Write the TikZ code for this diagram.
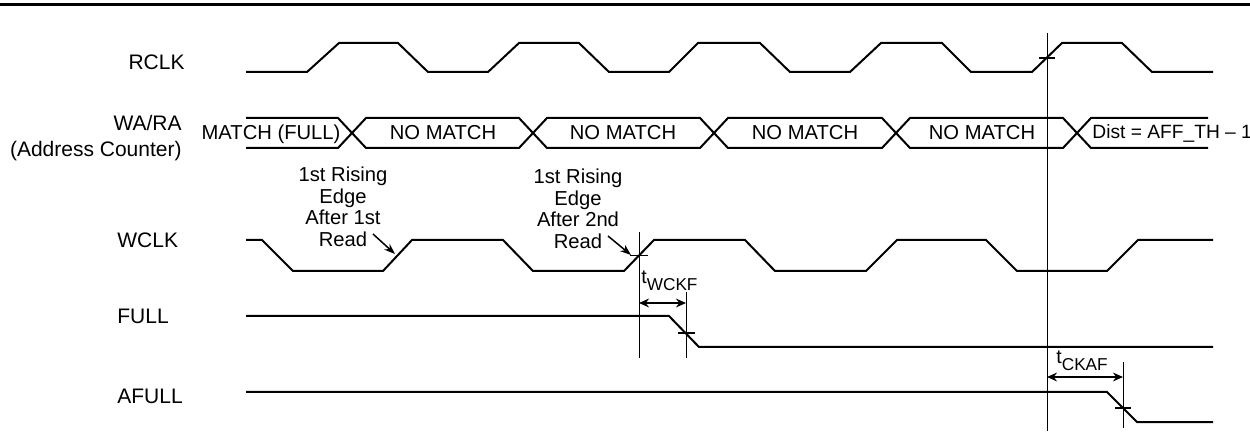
\documentclass[tikz,border=0pt]{standalone}
\usepackage{fontspec}
\setmainfont{Liberation Sans}
\usetikzlibrary{arrows.meta}
\newcommand\tsubscr[1]{t\raisebox{-3.4pt}{\fontsize{8.6}{9}\selectfont #1}}
\tikzset{
  sig/.style={line width=1pt, line join=miter},
  guide/.style={line width=0.5pt},
  tickmark/.style={line width=0.8pt},
  lbl/.style={font=\fontsize{10.5}{12}\selectfont, inner sep=0pt},
  bustxt/.style={font=\fontsize{10.1}{12}\selectfont, inner sep=0pt, anchor=base},
  note/.style={font=\fontsize{10.1}{10.85}\selectfont, align=center, inner sep=0pt, anchor=south, text depth=0pt},
  callout/.style={line width=0.75pt, -{Stealth[length=5.5pt,width=4pt]}},
  dimarrow/.style={line width=1pt, {Stealth[length=5pt,width=4.4pt]}-{Stealth[length=5pt,width=4.4pt]}},
  timetxt/.style={font=\fontsize{9.8}{11}\selectfont, inner sep=0pt, anchor=base west},
}
\begin{document}
\begin{tikzpicture}[x=0.5pt,y=-0.5pt]
\useasboundingbox (0,0) rectangle (1250,444);
% top rule
\draw[line width=1.7pt] (0,4.5) -- (1250,4.5);

% signal names
\node[lbl, anchor=base east] (nRCLK) at (185,70) {RCLK};
\node[lbl, anchor=base east] (nWARA) at (182,131) {WA/RA};
\node[lbl, anchor=base east] (nADDR) at (182,157) {(Address Counter)};
\node[lbl, anchor=base west] (nWCLK) at (117,248) {WCLK};
\node[lbl, anchor=base west] (nFULL) at (117,323) {FULL};
\node[lbl, anchor=base west] (nAFULL) at (117,403) {AFULL};

% RCLK
\draw[sig] (246,72) -- (307,72) -- (339,43) -- (398,43) -- (428,72) -- (488,72)
  -- (519,43) -- (579,43) -- (609,72) -- (669,72) -- (698,43) -- (760,43)
  -- (790,72) -- (850,72) -- (881,43) -- (942,43) -- (971,72) -- (1032,72)
  -- (1062,43) -- (1122,43) -- (1152,72) -- (1213,72);

% WA/RA bus
\draw[sig] (246,118) -- (338,118) -- (366,148) -- (519,148) -- (547,118) -- (700,118)
  -- (728,148) -- (882,148) -- (910,118) -- (1063,118) -- (1091,148) -- (1208,148);
\draw[sig] (246,148) -- (338,148) -- (366,118) -- (519,118) -- (547,148) -- (700,148)
  -- (728,118) -- (882,118) -- (910,148) -- (1063,148) -- (1091,118) -- (1208,118);
\node[bustxt] (b0) at (271,140) {MATCH (FULL)};
\node[bustxt] (b1) at (443,140) {NO MATCH};
\node[bustxt] (b2) at (623,140) {NO MATCH};
\node[bustxt] (b3) at (805,140) {NO MATCH};
\node[bustxt] (b4) at (982,140) {NO MATCH};
\node[bustxt, anchor=base west, font=\fontsize{9.6}{12}\selectfont] (b5) at (1092,139) {Dist = AFF\_TH – 1};

% WCLK
\draw[sig] (246,240) -- (262,240) -- (293,271) -- (383,271) -- (412,240) -- (503,240)
  -- (533,271) -- (624,271) -- (654,240) -- (745,240) -- (775,271) -- (866,271)
  -- (897,240) -- (986,240) -- (1017,271) -- (1107,271) -- (1138,240) -- (1213,240);

% FULL
\draw[sig] (246,316) -- (669,316) -- (699,347) -- (1213,347);
% AFULL
\draw[sig] (246,392) -- (1107,392) -- (1137,422) -- (1213,422);

% reference lines
\coordinate (v1t) at (639,232); \coordinate (v1b) at (639,358);
\coordinate (v2t) at (686,292); \coordinate (v2b) at (686,358);
\coordinate (v3t) at (1047,33); \coordinate (v3b) at (1047,431);
\coordinate (v4t) at (1123,362); \coordinate (v4b) at (1123,428);
\draw[guide] (v1t) -- (v1b);
\draw[guide] (v2t) -- (v2b);
\draw[guide] (v3t) -- (v3b);
\draw[guide] (v4t) -- (v4b);

% crossing ticks
\draw[tickmark] (630,255.5) -- (648,255.5);
\draw[tickmark] (678,333) -- (695,333);
\draw[tickmark] (1039,58) -- (1055,58);
\draw[tickmark] (1115,408) -- (1131,408);

% timing arrows
\coordinate (d1a) at (639,303); \coordinate (d1b) at (686,303);
\coordinate (d2a) at (1047,377); \coordinate (d2b) at (1123,377);
\draw[dimarrow] (d1a) -- (d1b);
\draw[dimarrow] (d2a) -- (d2b);
\node[timetxt] (tw) at (641,284) {\tsubscr{WCKF}};
\node[timetxt] (tc) at (1056,364) {\tsubscr{CKAF}};

% notes
\node[note] (n1) at (343,247) {1st Rising\\Edge\\After 1st\\Read};
\node[note] (n2) at (578,249) {1st Rising\\Edge\\After 2nd\\Read};
\coordinate (a1s) at (373,234); \coordinate (a1e) at (395,254);
\coordinate (a2s) at (608,236); \coordinate (a2e) at (631,255);
\draw[callout] (a1s) -- (a1e);
\draw[callout] (a2s) -- (a2e);
\end{tikzpicture}
\end{document}
